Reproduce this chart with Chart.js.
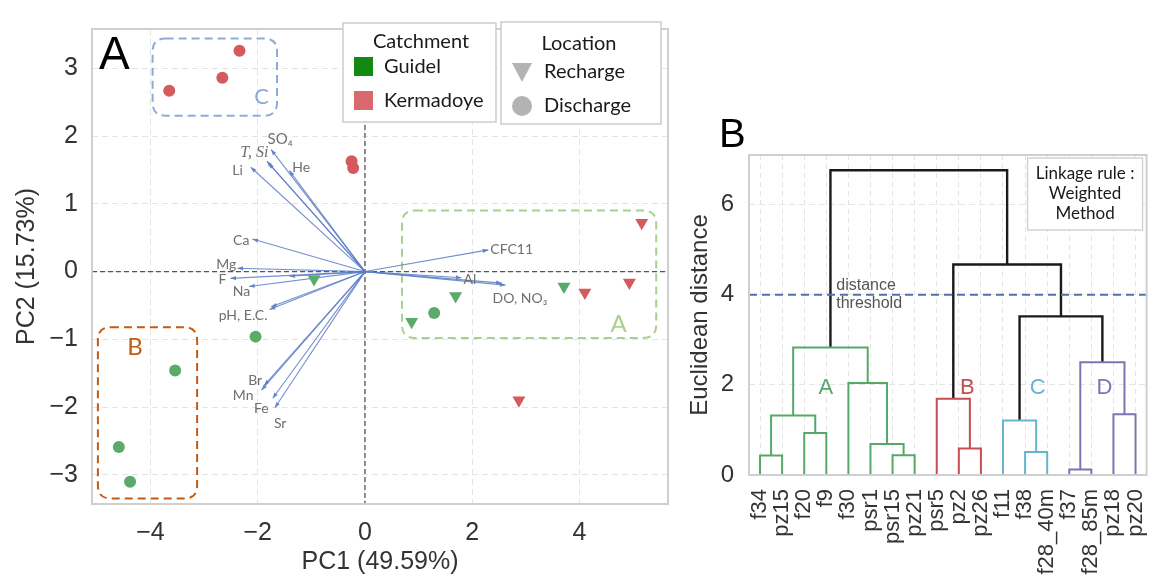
<!DOCTYPE html>
<html>
<head>
<meta charset="utf-8">
<script src="https://cdn.jsdelivr.net/npm/chart.js@4.4.0/dist/chart.umd.min.js"></script>
<style>
  body { margin: 0; background: #fff; width: 1176px; height: 579px; overflow: hidden; position: relative; }
  #pca { position: absolute; left: 0; top: 0; }
  #dendro { position: absolute; left: 680px; top: 0; }
</style>
</head>
<body>
<canvas id="pca" width="680" height="579"></canvas>
<canvas id="dendro" width="496" height="579"></canvas>
<script>
// ---------- panel A : PCA scores ----------
const pc1 = [-2.34, -2.66, -3.65, -0.25, -0.22, 5.16, 4.10, 4.93, 2.87,
             -0.95, 3.71, 1.69, 0.87, 1.29, -2.04, -3.54, -4.59, -4.38];
const pc2 = [3.26, 2.86, 2.67, 1.63, 1.53, 0.72, -0.31, -0.16, -1.90,
             -0.11, -0.22, -0.36, -0.74, -0.61, -0.96, -1.46, -2.59, -3.10];
const catchment = ['Kermadoye', 'Kermadoye', 'Kermadoye', 'Kermadoye', 'Kermadoye', 'Kermadoye', 'Kermadoye', 'Kermadoye', 'Kermadoye',
                   'Guidel', 'Guidel', 'Guidel', 'Guidel', 'Guidel', 'Guidel', 'Guidel', 'Guidel', 'Guidel'];
const siteType = ['Discharge', 'Discharge', 'Discharge', 'Discharge', 'Discharge', 'Recharge', 'Recharge', 'Recharge', 'Recharge',
                  'Recharge', 'Recharge', 'Recharge', 'Recharge', 'Discharge', 'Discharge', 'Discharge', 'Discharge', 'Discharge'];

// loadings (arrows); an empty label means it shares the label of the previous arrow
const loadLabel = ['SO₄', 'T, Si', '', 'Li', 'He', 'Ca', 'Mg', 'F', 'Na', 'pH, E.C.', '', '',
                   'Br', 'Mn', 'Fe', 'Sr', 'CFC11', 'Al', 'DO, NO₃', ''];
const loadX = [-1.75, -1.80, -1.83, -2.13, -1.41, -2.10, -2.38, -2.51, -2.16, -1.78, -1.75, -1.41,
               -1.88, -1.93, -1.72, -1.68, 2.30, 1.80, 2.62, 2.55];
const loadY = [1.80, 1.60, 1.63, 1.54, 1.49, 0.48, 0.05, -0.10, -0.22, -0.56, -0.52, -0.07,
               -1.68, -1.75, -1.87, -2.01, 0.32, -0.09, -0.20, -0.17];

const pcXTicks = [-4, -2, 0, 2, 4];
const pcYTicks = [-3, -2, -1, 0, 1, 2, 3];

// ---------- panel B : dendrogram ----------
const leaves = ['f34', 'pz15', 'f20', 'f9', 'f30', 'psr1', 'psr15', 'pz21', 'psr5', 'pz2', 'pz26',
                'f11', 'f38', 'f28_40m', 'f37', 'f28_85m', 'pz18', 'pz20'];
// [child a, child b, height]; nodes >= 18 are earlier merges, like scipy linkage
const links = [[0, 1, 0.43], [2, 3, 0.93], [18, 19, 1.32], [6, 7, 0.44], [5, 21, 0.69], [4, 22, 2.04],
               [20, 23, 2.83], [9, 10, 0.59], [8, 25, 1.69], [12, 13, 0.51], [11, 27, 1.21],
               [14, 15, 0.12], [16, 17, 1.35], [29, 30, 2.50], [28, 31, 3.52], [26, 32, 4.67], [24, 33, 6.76]];
const linkCluster = ['A', 'A', 'A', 'A', 'A', 'A', 'A', 'B', 'B', 'C', 'C', 'D', 'D', 'D', '', '', ''];
const distTicks = [0, 2, 4, 6];
const threshold = 4;

// ---------- styles ----------
const RED = '#d45a5e', GREEN = '#5aab6a';
const clusterColor = { A: '#55a868', B: '#c44e52', C: '#64b5cd', D: '#8172b2', '': '#1a1a1a' };
const SANS = '"Liberation Sans", Arial, sans-serif';
const CAL = 'Lato, "Open Sans", sans-serif';

const labelStyle = {
  'SO₄': ['center', 9, -10], 'T, Si': ['center', -14, -10], 'Li': ['right', -8, 3], 'He': ['left', 3, -3],
  'Ca': ['right', -3, 1], 'Mg': ['right', -1, -4], 'F': ['right', -4, 1], 'Na': ['right', 1, 5],
  'pH, E.C.': ['right', -2, 6], 'Br': ['right', -2, -5], 'Mn': ['right', -8, 5], 'Fe': ['right', -4, 10],
  'Sr': ['left', -1, 16], 'CFC11': ['left', 2, 0], 'Al': ['left', 2, 2], 'DO, NO₃': ['left', -13, 13]
};

function scoreSet(c, loc, color) {
  const pts = [];
  pc1.forEach((v, i) => { if (catchment[i] === c && siteType[i] === loc) pts.push({ x: v, y: pc2[i] }); });
  const tri = loc === 'Recharge';
  return {
    label: c + ' ' + loc, data: pts, backgroundColor: color, borderColor: color, borderWidth: 0,
    pointStyle: tri ? 'triangle' : 'circle', pointRadius: tri ? 7.5 : 6, pointRotation: tri ? 180 : 0,
    pointHoverRadius: tri ? 7.5 : 6
  };
}

function roundBox(ctx, x0, y0, x1, y1, r) {
  ctx.beginPath();
  ctx.moveTo(x0 + r, y0);
  ctx.lineTo(x1 - r, y0); ctx.quadraticCurveTo(x1, y0, x1, y0 + r);
  ctx.lineTo(x1, y1 - r); ctx.quadraticCurveTo(x1, y1, x1 - r, y1);
  ctx.lineTo(x0 + r, y1); ctx.quadraticCurveTo(x0, y1, x0, y1 - r);
  ctx.lineTo(x0, y0 + r); ctx.quadraticCurveTo(x0, y0, x0 + r, y0);
  ctx.stroke();
}

const groupBoxes = [
  { x0: -3.96, x1: -1.64, y0: 3.44, y1: 2.30, color: '#8eaadb', text: 'C', tx: -1.93, ty: 2.58, size: 22 },
  { x0: 0.69, x1: 5.43, y0: 0.90, y1: -0.98, color: '#a9d18e', text: 'A', tx: 4.73, ty: -0.78, size: 24 },
  { x0: -4.98, x1: -3.13, y0: -0.82, y1: -3.35, color: '#c55a11', text: 'B', tx: -4.29, ty: -1.12, size: 24 }
];

const pcaDecor = {
  id: 'pcaDecor',
  beforeDatasetsDraw(chart) {
    const { ctx, chartArea: a, scales: { x, y } } = chart;
    ctx.save();
    // zero axes
    ctx.strokeStyle = '#555'; ctx.lineWidth = 1.3; ctx.setLineDash([5, 3]);
    ctx.beginPath();
    ctx.moveTo(a.left, y.getPixelForValue(0)); ctx.lineTo(a.right, y.getPixelForValue(0));
    ctx.moveTo(x.getPixelForValue(0), a.top); ctx.lineTo(x.getPixelForValue(0), a.bottom);
    ctx.stroke();
    // group boxes
    ctx.lineWidth = 2; ctx.setLineDash([8, 5]);
    groupBoxes.forEach(b => {
      ctx.strokeStyle = b.color;
      roundBox(ctx, x.getPixelForValue(b.x0), y.getPixelForValue(b.y0), x.getPixelForValue(b.x1), y.getPixelForValue(b.y1), 13);
    });
    ctx.setLineDash([]);
    groupBoxes.forEach(b => {
      ctx.fillStyle = b.color; ctx.font = b.size + 'px ' + CAL;
      ctx.textAlign = 'center'; ctx.textBaseline = 'middle';
      ctx.fillText(b.text, x.getPixelForValue(b.tx), y.getPixelForValue(b.ty));
    });
    // loadings arrows
    const ox = x.getPixelForValue(0), oy = y.getPixelForValue(0);
    ctx.strokeStyle = 'rgba(92,124,196,0.85)'; ctx.fillStyle = 'rgba(92,124,196,0.9)'; ctx.lineWidth = 1.1;
    loadX.forEach((v, i) => {
      const tx = x.getPixelForValue(v), ty = y.getPixelForValue(loadY[i]);
      const ang = Math.atan2(ty - oy, tx - ox);
      ctx.beginPath(); ctx.moveTo(ox, oy); ctx.lineTo(tx, ty); ctx.stroke();
      ctx.beginPath();
      ctx.moveTo(tx, ty);
      ctx.lineTo(tx - 6 * Math.cos(ang - 0.35), ty - 6 * Math.sin(ang - 0.35));
      ctx.lineTo(tx - 6 * Math.cos(ang + 0.35), ty - 6 * Math.sin(ang + 0.35));
      ctx.closePath(); ctx.fill();
    });
    ctx.fillStyle = '#6f6f6f'; ctx.textBaseline = 'middle';
    loadLabel.forEach((t, i) => {
      if (!t) return;
      const st = labelStyle[t];
      ctx.textAlign = st[0];
      ctx.font = t === 'T, Si' ? 'italic 16px "Liberation Serif", serif' : (t === 'SO₄' ? '15px ' : '14px ') + CAL;
      ctx.fillText(t, x.getPixelForValue(loadX[i]) + st[1], y.getPixelForValue(loadY[i]) + st[2]);
    });
    ctx.restore();
  },
  afterDraw(chart) {
    const { ctx, chartArea: a } = chart;
    ctx.save();
    ctx.strokeStyle = '#cfcfcf'; ctx.lineWidth = 2;
    ctx.strokeRect(a.left, a.top, a.right - a.left, a.bottom - a.top);
    // panel letter
    ctx.fillStyle = '#000'; ctx.font = '46px ' + SANS; ctx.textAlign = 'left'; ctx.textBaseline = 'alphabetic';
    ctx.fillText('A', a.left + 7, a.top + 40);
    // legends
    ctx.lineWidth = 1.5; ctx.strokeStyle = '#cdcdcd'; ctx.fillStyle = '#fff';
    ctx.fillRect(343, 23, 153, 99); ctx.strokeRect(343, 23, 153, 99);
    ctx.fillRect(501, 22, 160, 102); ctx.strokeRect(501, 22, 160, 102);
    ctx.fillStyle = '#1a1a1a'; ctx.font = '20px ' + CAL; ctx.textBaseline = 'middle';
    ctx.textAlign = 'center';
    ctx.fillText('Catchment', 421, 42);
    ctx.fillText('Location', 579, 44);
    ctx.textAlign = 'left';
    ctx.fillText('Guidel', 384, 67);
    ctx.fillText('Kermadoye', 384, 101);
    ctx.fillText('Recharge', 544, 72);
    ctx.fillText('Discharge', 544, 106);
    ctx.fillStyle = '#128a12'; ctx.fillRect(354, 57, 19, 19);
    ctx.fillStyle = '#d8696c'; ctx.fillRect(354, 91, 19, 19);
    ctx.fillStyle = '#b3b3b3';
    ctx.beginPath(); ctx.moveTo(512, 63); ctx.lineTo(532, 63); ctx.lineTo(522, 82); ctx.closePath(); ctx.fill();
    ctx.beginPath(); ctx.arc(522, 106, 10, 0, Math.PI * 2); ctx.fill();
    ctx.restore();
  }
};

const gridA = { color: '#e4e4e4', lineWidth: 1, drawTicks: false };
new Chart(document.getElementById('pca'), {
  type: 'scatter',
  data: {
    datasets: [
      scoreSet('Guidel', 'Recharge', GREEN), scoreSet('Guidel', 'Discharge', GREEN),
      scoreSet('Kermadoye', 'Recharge', RED), scoreSet('Kermadoye', 'Discharge', RED)
    ]
  },
  options: {
    responsive: false, animation: false,
    layout: { padding: { top: 15, right: 12, left: 0, bottom: 0 } },
    plugins: { legend: { display: false }, tooltip: { enabled: false } },
    scales: {
      x: {
        type: 'linear', min: -5.09, max: 5.65,
        afterBuildTicks: s => { s.ticks = pcXTicks.map(v => ({ value: v })); },
        afterFit: s => { s.height = 75; },
        grid: gridA, border: { display: false, dash: [6, 4] },
        ticks: { padding: 14, color: '#333', font: { size: 25, family: SANS },
                 callback: v => String(v).replace('-', '\u2212') },
        title: { display: true, text: 'PC1 (49.59%)', color: '#333', font: { size: 25, family: SANS }, padding: { bottom: 2, top: 0 } }
      },
      y: {
        type: 'linear', min: -3.43, max: 3.58,
        afterBuildTicks: s => { s.ticks = pcYTicks.map(v => ({ value: v })); },
        afterFit: s => { s.width = 92; },
        grid: gridA, border: { display: false, dash: [6, 4] },
        ticks: { padding: 14, color: '#333', font: { size: 25, family: SANS },
                 callback: v => String(v).replace('-', '\u2212') },
        title: { display: true, text: 'PC2 (15.73%)', color: '#333', font: { size: 25, family: SANS }, padding: { top: 12, bottom: 0 } }
      }
    }
  },
  plugins: [pcaDecor]
});

// ---------- dendrogram build ----------
const nodeX = leaves.map((_, i) => i);
const nodeH = leaves.map(() => 0);
const dendroSets = links.map((l, k) => {
  const [a, b, h] = l;
  nodeX.push((nodeX[a] + nodeX[b]) / 2);
  nodeH.push(h);
  const col = clusterColor[linkCluster[k]];
  return {
    data: [{ x: nodeX[a], y: nodeH[a] }, { x: nodeX[a], y: h }, { x: nodeX[b], y: h }, { x: nodeX[b], y: nodeH[b] }],
    showLine: true, borderColor: col, borderWidth: linkCluster[k] ? 2 : 2.4,
    pointRadius: 0, pointHoverRadius: 0, fill: false, tension: 0
  };
});

const clusterNotes = [['A', 2.98], ['B', 9.39], ['C', 12.57], ['D', 15.59]];

const dendroDecor = {
  id: 'dendroDecor',
  afterDatasetsDraw(chart) {
    const { ctx, chartArea: a, scales: { x, y } } = chart;
    ctx.save();
    const ty = y.getPixelForValue(threshold);
    ctx.strokeStyle = '#4c72b0'; ctx.lineWidth = 2; ctx.setLineDash([8, 5]);
    ctx.beginPath(); ctx.moveTo(a.left, ty); ctx.lineTo(a.right, ty); ctx.stroke();
    ctx.setLineDash([]);
    ctx.fillStyle = '#555'; ctx.font = '16px ' + SANS; ctx.textAlign = 'left'; ctx.textBaseline = 'middle';
    ctx.fillText('distance', x.getPixelForValue(3.45), ty - 9);
    ctx.fillText('threshold', x.getPixelForValue(3.45), ty + 9);
    clusterNotes.forEach(([t, cx]) => {
      ctx.fillStyle = clusterColor[t]; ctx.font = '22px ' + SANS; ctx.textAlign = 'center';
      ctx.fillText(t, x.getPixelForValue(cx), y.getPixelForValue(1.93));
    });
    ctx.restore();
  },
  afterDraw(chart) {
    const { ctx, chartArea: a } = chart;
    ctx.save();
    ctx.strokeStyle = '#cfcfcf'; ctx.lineWidth = 2;
    ctx.strokeRect(a.left, a.top, a.right - a.left, a.bottom - a.top);
    // linkage note
    ctx.lineWidth = 1.3; ctx.strokeStyle = '#cdcdcd'; ctx.fillStyle = '#fff';
    ctx.fillRect(a.right - 119, a.top + 3, 115, 72); ctx.strokeRect(a.right - 119, a.top + 3, 115, 72);
    ctx.fillStyle = '#1a1a1a'; ctx.font = '17px ' + CAL; ctx.textAlign = 'center'; ctx.textBaseline = 'middle';
    const cx = a.right - 61.5;
    ctx.fillText('Linkage rule :', cx, a.top + 19);
    ctx.fillText('Weighted', cx, a.top + 39);
    ctx.fillText('Method', cx, a.top + 59);
    // panel letter
    ctx.fillStyle = '#000'; ctx.font = '40px ' + SANS; ctx.textAlign = 'left'; ctx.textBaseline = 'alphabetic';
    ctx.fillText('B', 39, 147);
    ctx.restore();
  }
};

const gridB = { color: '#e4e4e4', lineWidth: 1, drawTicks: false };
new Chart(document.getElementById('dendro'), {
  type: 'scatter',
  data: { datasets: dendroSets },
  options: {
    responsive: false, animation: false,
    layout: { padding: { top: 155, right: 3, left: 0, bottom: 0 } },
    plugins: { legend: { display: false }, tooltip: { enabled: false } },
    scales: {
      x: {
        type: 'linear', min: -0.5, max: leaves.length - 0.5,
        afterBuildTicks: s => { s.ticks = leaves.map((_, i) => ({ value: i })); },
        afterFit: s => { s.height = 104; },
        grid: gridB, border: { display: false, dash: [5, 4] },
        ticks: { autoSkip: false, minRotation: 90, maxRotation: 90, padding: 14, color: '#333',
                 font: { size: 22, family: SANS }, callback: v => leaves[v] }
      },
      y: {
        type: 'linear', min: 0, max: 7.1,
        afterBuildTicks: s => { s.ticks = distTicks.map(v => ({ value: v })); },
        afterFit: s => { s.width = 69; },
        grid: gridB, border: { display: false, dash: [6, 4] },
        ticks: { padding: 15, color: '#333', font: { size: 24, family: SANS } },
        title: { display: true, text: 'Euclidean distance', color: '#333', font: { size: 24, family: SANS }, padding: { top: 6, bottom: 0 } }
      }
    }
  },
  plugins: [dendroDecor]
});
</script>
</body>
</html>
